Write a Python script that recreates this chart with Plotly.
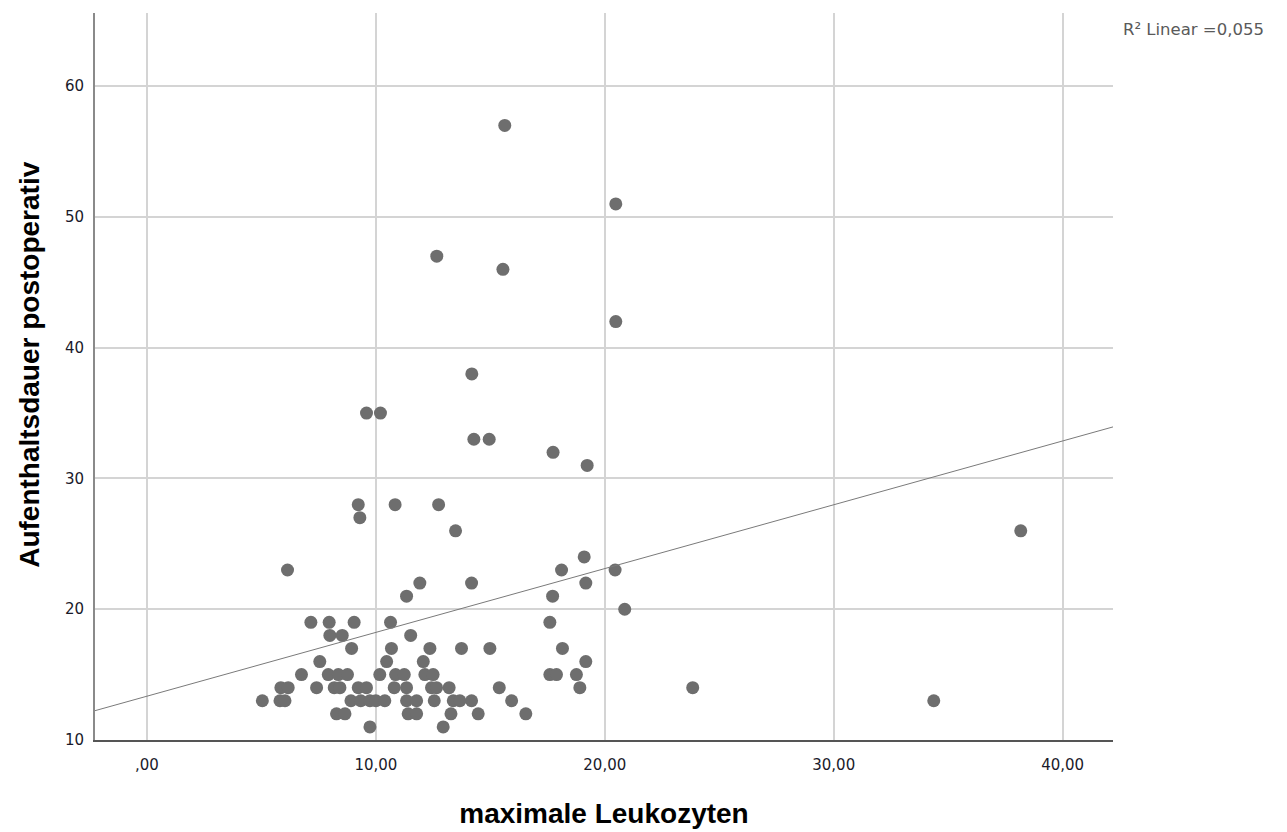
import plotly.graph_objects as go

# Data (x = maximale Leukozyten, y = Aufenthaltsdauer postoperativ)
rows = {
    11: [9.74, 12.94],
    12: [8.28, 8.65, 11.41, 11.78, 13.28, 14.47, 16.55],
    13: [5.04, 5.81, 6.03, 8.91, 9.34, 9.74, 10.0, 10.39, 11.34, 11.78, 12.55, 13.38, 13.67, 14.18, 15.93, 34.37],
    14: [5.85, 6.17, 7.41, 8.18, 8.43, 9.23, 9.59, 10.8, 11.34, 12.43, 12.65, 13.2, 15.39, 18.91, 23.84],
    15: [6.75, 7.92, 8.36, 8.76, 10.17, 10.86, 11.24, 12.14, 12.5, 17.6, 17.89, 18.76],
    16: [7.55, 10.47, 12.07, 19.17],
    17: [8.94, 10.68, 12.36, 13.74, 14.98, 18.15],
    18: [7.99, 8.53, 11.52],
    19: [7.16, 7.96, 9.05, 10.64, 17.6],
    20: [20.87],
    21: [11.34, 17.72],
    22: [11.92, 14.18, 19.17],
    23: [6.14, 18.11, 20.45],
    24: [19.1],
    26: [13.48, 38.17],
    27: [9.3],
    28: [9.23, 10.84, 12.74],
    31: [19.23],
    32: [17.74],
    33: [14.28, 14.95],
    35: [9.59, 10.2],
    38: [14.19],
    42: [20.48],
    46: [15.55],
    47: [12.66],
    51: [20.48],
    57: [15.63],
}
leukozyten = [x for y, xs in rows.items() for x in xs]
aufenthalt = [y for y, xs in rows.items() for _ in xs]

# Linear fit line
fit_intercept = 13.35
fit_slope = 0.488

x_tickvals = [0, 10, 20, 30, 40]
x_ticktext = [",00", "10,00", "20,00", "30,00", "40,00"]
y_tickvals = [10, 20, 30, 40, 50, 60]
r2_label = "R² Linear =0,055"
x_title = "maximale Leukozyten"
y_title = "Aufenthaltsdauer postoperativ"

x_range = [-2.27, 42.2]
y_range = [10, 65.6]

line_x = list(x_range)
line_y = [fit_intercept + fit_slope * v for v in line_x]

WIDE = "DejaVu Sans, Verdana, sans-serif"
FONT = "Liberation Sans, Arial, Helvetica, sans-serif"

fig = go.Figure()
fig.add_trace(go.Scatter(
    x=leukozyten, y=aufenthalt, mode="markers",
    marker=dict(size=13, color="#6e6e6e", line=dict(width=0)),
    showlegend=False, hoverinfo="x+y",
))
fig.add_trace(go.Scatter(
    x=line_x, y=line_y, mode="lines",
    line=dict(color="#7a7a7a", width=1),
    showlegend=False, hoverinfo="skip",
))

fig.update_layout(
    width=1287, height=832,
    margin=dict(l=87, r=182, t=5, b=100),
    paper_bgcolor="white", plot_bgcolor="white",
    font=dict(family=WIDE, size=15, color="#1a1a2a"),
    xaxis=dict(
        range=x_range, tickvals=x_tickvals, ticktext=x_ticktext,
        showgrid=True, gridcolor="#d4d4d4", gridwidth=1.5,
        zeroline=False, showline=True, linecolor="#555555", linewidth=2,
        ticks="", ticklabelstandoff=10,
        tickfont=dict(family=WIDE, size=15, color="#1a1a2a"),
        title=dict(text="<b>" + x_title + "</b>", standoff=30,
                   font=dict(family=FONT, size=28, color="black")),
    ),
    yaxis=dict(
        range=y_range, tickvals=y_tickvals,
        showgrid=True, gridcolor="#d4d4d4", gridwidth=1.5,
        zeroline=False, showline=True, linecolor="#8a8a8a", linewidth=2,
        ticks="", ticklabelstandoff=6,
        tickfont=dict(family=WIDE, size=15, color="#1a1a2a"),
    ),
    annotations=[
        dict(
            text=r2_label, xref="paper", yref="paper", x=1.008, y=0.977,
            xanchor="left", yanchor="middle", showarrow=False,
            font=dict(family=WIDE, size=16.5, color="#5a5a5a"),
        ),
        dict(
            text="<b>" + y_title + "</b>", xref="paper", yref="paper",
            x=-0.0639, y=0.516, xanchor="center", yanchor="middle",
            textangle=-90, showarrow=False,
            font=dict(family=FONT, size=28, color="black"),
        ),
    ],
)

fig.write_html("out.html")
